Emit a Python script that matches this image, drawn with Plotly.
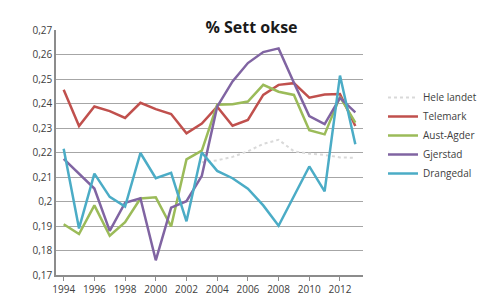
import plotly.graph_objects as go

years = list(range(1994, 2014))
tick_years = list(range(1994, 2013, 2))
y_ticks = [0.17, 0.18, 0.19, 0.20, 0.21, 0.22, 0.23, 0.24, 0.25, 0.26, 0.27]
y_tick_text = ["0,17", "0,18", "0,19", "0,2", "0,21", "0,22", "0,23", "0,24", "0,25", "0,26", "0,27"]

hele_landet = [None, None, None, None, None, None, None, None, None,
               0.2160, 0.2168, 0.2182, 0.2205, 0.2235, 0.2252, 0.2205, 0.2195, 0.2190, 0.2180, 0.2178]
telemark = [0.2456, 0.2308, 0.2388, 0.2369, 0.2341, 0.2403, 0.2377, 0.2357, 0.2278, 0.2318,
            0.2387, 0.2309, 0.2333, 0.2435, 0.2476, 0.2483, 0.2424, 0.2437, 0.2439, 0.2308]
aust_agder = [0.1907, 0.1867, 0.1984, 0.1860, 0.1916, 0.2012, 0.2017, 0.1898, 0.2172, 0.2208,
              0.2395, 0.2397, 0.2408, 0.2476, 0.2448, 0.2435, 0.2291, 0.2274, 0.2427, 0.2322]
gjerstad = [0.2174, 0.2113, 0.2053, 0.1880, 0.1995, 0.2013, 0.1760, 0.1975, 0.2001, 0.2105,
            0.2387, 0.2490, 0.2565, 0.2610, 0.2625, 0.2485, 0.2349, 0.2316, 0.2423, 0.2364]
drangedal = [0.2215, 0.1890, 0.2114, 0.2019, 0.1979, 0.2198, 0.2095, 0.2117, 0.1919, 0.2200,
             0.2125, 0.2095, 0.2052, 0.1984, 0.1901, 0.2022, 0.2143, 0.2041, 0.2514, 0.2234]

series = [
    ("Hele landet", hele_landet, "#d9d9d9", "dot", 2),
    ("Telemark", telemark, "#c0504d", "solid", 2.5),
    ("Aust-Agder", aust_agder, "#9bbb59", "solid", 2.5),
    ("Gjerstad", gjerstad, "#8064a2", "solid", 2.5),
    ("Drangedal", drangedal, "#4bacc6", "solid", 2.5),
]

fig = go.Figure()
for name, vals, color, dash, w in series:
    fig.add_trace(go.Scatter(
        x=years, y=vals, name=name, mode="lines",
        line=dict(color=color, width=w, dash=dash),
        connectgaps=False,
    ))

fig.update_layout(
    width=487, height=300,
    margin=dict(l=48, r=132, t=22, b=30),
    paper_bgcolor="white", plot_bgcolor="white",
    font=dict(family="Open Sans, Liberation Sans, sans-serif", size=10, color="#404040"),
    title=dict(text="<b>% Sett okse</b>", x=0.5, xref="container", xanchor="center",
               y=0.935, yref="container", yanchor="middle",
               font=dict(size=16, color="#1a1a1a")),
    showlegend=True,
    legend=dict(x=0.77, xref="container", y=0.75, yref="container",
                xanchor="left", yanchor="top",
                itemwidth=30,
                font=dict(size=10, color="#404040"),
                bgcolor="rgba(0,0,0,0)"),
    xaxis=dict(
        range=[1993.5, 2013.5],
        tickmode="array", tickvals=tick_years, ticktext=[str(y) for y in tick_years],
        showgrid=False, zeroline=False,
        showline=True, linecolor="#8c8c8c", linewidth=1.5,
        ticks="outside", ticklen=4, tickcolor="#8c8c8c",
        tickfont=dict(size=10, color="#404040"),
    ),
    yaxis=dict(
        range=[0.17, 0.27],
        tickmode="array", tickvals=y_ticks, ticktext=y_tick_text,
        showgrid=True, gridcolor="#a6a6a6", gridwidth=1,
        zeroline=False,
        showline=True, linecolor="#8c8c8c", linewidth=1.5,
        tickfont=dict(size=10, color="#404040"),
    ),
)

fig.write_html("out.html")
